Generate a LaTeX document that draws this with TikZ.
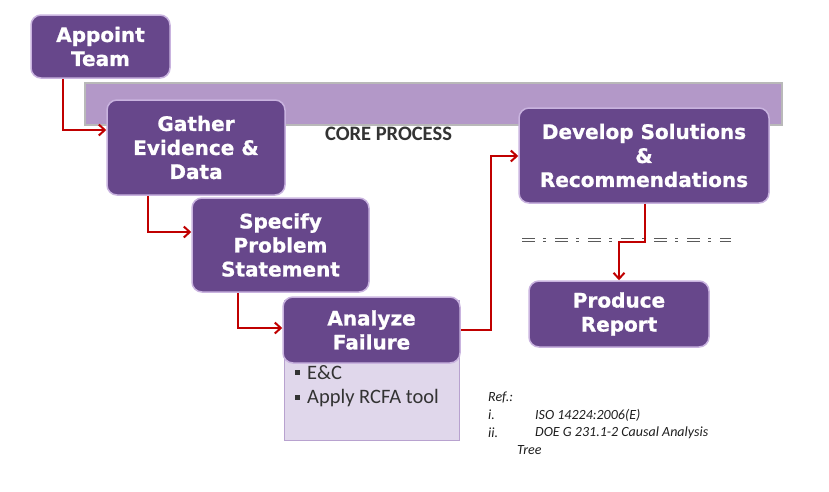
\documentclass[tikz,border=0pt]{standalone}
\usepackage{fontspec}
\setmainfont{Carlito}
\newfontfamily\boxfont{DejaVu Sans Bold}[FakeBold=1]
\usetikzlibrary{arrows.meta,positioning}
\definecolor{boxpurple}{HTML}{67478B}
\definecolor{boxglow}{HTML}{C9B3DF}
\definecolor{bandfill}{HTML}{B398C8}
\definecolor{lightfill}{HTML}{E0D7EB}
\definecolor{lightedge}{HTML}{B8A2CF}
\definecolor{conred}{HTML}{C00000}
\definecolor{txtgray}{HTML}{333333}
\definecolor{refgray}{HTML}{1E1E1E}
\tikzset{
  stepbox/.style={draw=boxglow, line width=1.5pt, fill=boxpurple, rounded corners=10pt,
    text=white, font=\boxfont\fontsize{20}{24}\selectfont, align=center, inner sep=0pt},
  con/.style={draw=conred, line width=2pt, -{Straight Barb[length=6pt,width=11pt,line width=2pt]}},
  reftext/.style={font=\itshape\fontsize{14}{16}\selectfont, text=refgray, anchor=west, inner sep=0pt},
  bullettext/.style={font=\fontsize{20.5}{24}\selectfont, text=txtgray, anchor=west, inner sep=0pt},
}
\begin{document}
\begin{tikzpicture}[x=1pt,y=-1pt]
\useasboundingbox (0,0) rectangle (829,491);
% band
\fill[gray!55] (84,82) rectangle (783,126);
\fill[bandfill] (86,84) rectangle (781,124);
% light box under analyze
\node[draw=lightedge, fill=lightfill, line width=1pt, minimum width=175pt, minimum height=140pt, anchor=north west, inner sep=0pt] (lbox) at (284,300) {};
% boxes
\node[stepbox, minimum width=139pt, minimum height=63pt] (appoint) at (100.5,46.5) {Appoint\\Team};
\node[stepbox, minimum width=178pt, minimum height=95pt] (gather) at (196,147.5) {Gather\\Evidence \&\\Data};
\node[stepbox, minimum width=177pt, minimum height=94pt] (specify) at (280.5,245) {Specify\\Problem\\Statement};
\node[stepbox, minimum width=177pt, minimum height=66pt] (analyze) at (371.5,330) {Analyze\\Failure};
\node[stepbox, minimum width=250pt, minimum height=95pt] (develop) at (644,155.5) {Develop Solutions\\\&\\Recommendations};
\node[stepbox, minimum width=180pt, minimum height=66pt] (produce) at (619,314) {Produce\\Report};
% core process
\node[font=\bfseries\fontsize{20.5}{24}\selectfont, text=txtgray, inner sep=0pt] (core) at (388.5,134) {CORE PROCESS};
% bullets
\node[bullettext] (b1) at (307,373) {E\&C};
\node[bullettext] (b2) at (307,398) {Apply RCFA tool};
\fill[txtgray] (295,370) rectangle (300,375);
\fill[txtgray] (295,395) rectangle (300,400);
% dashed double line
\foreach \yy in {238.5,241}{
  \draw[gray!70!black, line width=1pt, dash pattern=on 13pt off 8pt on 3pt off 9pt] (522,\yy) -- (731,\yy);
}
% connectors
\coordinate (c1) at (63,130);
\draw[con] (appoint.south -| c1) -- (c1) -- (gather.west |- c1);
\coordinate (c2) at (148,232);
\draw[con] (gather.south -| c2) -- (c2) -- (specify.west |- c2);
\coordinate (c3) at (238,328);
\draw[con] (specify.south -| c3) -- (c3) -- (analyze.west |- c3);
\coordinate (c4a) at (491,330);
\coordinate (c4b) at (491,156);
\draw[con] (analyze.east |- c4a) -- (c4a) -- (c4b) -- (develop.west |- c4b);
\coordinate (c5a) at (645,242);
\coordinate (c5b) at (619,242);
\draw[con] (develop.south -| c5a) -- (c5a) -- (c5b) -- (produce.north -| c5b);
% refs
\node[reftext] (r0) at (488,398) {Ref.:};
\node[reftext] (r1) at (488,415) {i.};
\node[reftext] (r1t) at (535,415) {ISO 14224:2006(E)};
\node[reftext] (r2) at (488,433) {ii.};
\node[reftext] (r2t) at (535,433) {DOE G 231.1-2 Causal Analysis};
\node[reftext] (r3) at (517,450) {Tree};
\end{tikzpicture}
\end{document}
